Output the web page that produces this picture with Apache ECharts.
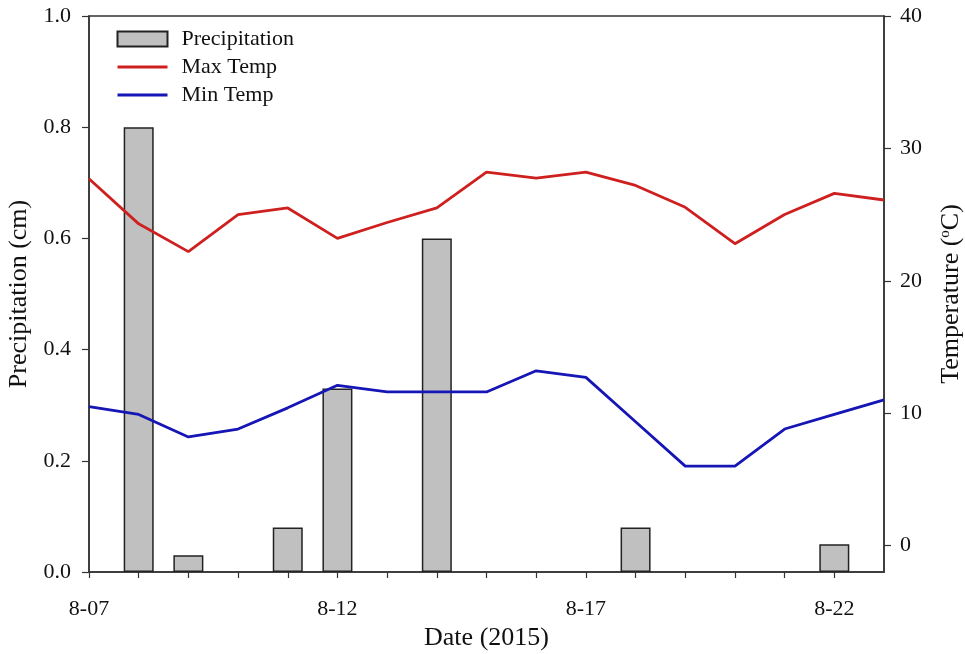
<!DOCTYPE html>
<html>
<head>
<meta charset="utf-8">
<script src="https://cdn.jsdelivr.net/npm/echarts@6/dist/echarts.min.js"></script>
<style>
  html, body { margin: 0; padding: 0; background: #fff; }
  #chart { width: 965px; height: 654px; }
</style>
</head>
<body>
<div id="chart"></div>
<script>
// Day of August 2015 for each daily temperature reading
const days = [7, 8, 9, 10, 11, 12, 13, 14, 15, 16, 17, 18, 19, 20, 21, 22, 23];
// Daily maximum and minimum air temperature (°C)
const maxTemp = [27.7, 24.3, 22.2, 25.0, 25.5, 23.2, 24.4, 25.5, 28.2, 27.75, 28.2, 27.2, 25.55, 22.8, 25.0, 26.6, 26.1];
const minTemp = [10.5, 9.9, 8.2, 8.8, 10.4, 12.1, 11.6, 11.6, 11.6, 13.2, 12.7, 9.35, 6.0, 6.0, 8.8, 9.9, 11.0];
// Days with rain and the amount recorded (cm)
const precipDays = [8, 9, 11, 12, 14, 18, 22];
const precipCm = [0.8, 0.03, 0.08, 0.33, 0.6, 0.08, 0.05];
// Labelled dates on the x axis and temperature ticks on the right axis
const dateTicks = [7, 12, 17, 22];
const tempTicks = [0, 10, 20, 30, 40];

const FONT = '"Liberation Serif", "Times New Roman", serif';
const AXIS_COLOR = '#333';
const TEXT_COLOR = '#111';
const RED = '#cf2020';
const BLUE = '#1616b6';

const chart = echarts.init(document.getElementById('chart'), null, { renderer: 'canvas' });

const pad2 = n => (n < 10 ? '0' : '') + n;

chart.setOption({
  animation: false,
  backgroundColor: '#fff',
  textStyle: { fontFamily: FONT },
  grid: {
    left: 89, right: 81, top: 16, bottom: 82,
    show: true, borderColor: AXIS_COLOR, borderWidth: 1.5,
    containLabel: false,
    outerBoundsMode: 'none'
  },
  legend: {
    orient: 'vertical',
    left: 116, top: 28,
    padding: 0,
    itemWidth: 50, itemHeight: 15, itemGap: 6,
    textStyle: { fontFamily: FONT, fontSize: 22, color: TEXT_COLOR, padding: [0, 0, 0, 9] },
    data: [
      { name: 'Precipitation', icon: 'rect' },
      // line-only keys: keep the stroke, hide the marker
      { name: 'Max Temp', itemStyle: { opacity: 0 }, lineStyle: { width: 3 } },
      { name: 'Min Temp', itemStyle: { opacity: 0 }, lineStyle: { width: 3 } }
    ]
  },
  xAxis: {
    type: 'value',
    min: 7, max: 23, interval: 1,
    name: 'Date (2015)',
    nameLocation: 'middle',
    nameGap: 47,
    nameTextStyle: { fontFamily: FONT, fontSize: 26, color: TEXT_COLOR },
    axisLine: { show: true, onZero: false, lineStyle: { color: AXIS_COLOR, width: 1.5 } },
    axisTick: { show: true, inside: false, length: 6, lineStyle: { color: AXIS_COLOR, width: 1.2 } },
    axisLabel: {
      margin: 26, fontFamily: FONT, fontSize: 22, color: TEXT_COLOR,
      showMinLabel: true, showMaxLabel: false,
      formatter: v => dateTicks.indexOf(v) >= 0 ? '8-' + pad2(v) : ''
    },
    splitLine: { show: false }
  },
  yAxis: [
    {
      type: 'value',
      min: 0, max: 1, interval: 0.2,
      name: 'Precipitation (cm)',
      nameLocation: 'middle',
      nameGap: 55,
      nameRotate: 90,
      nameTextStyle: { fontFamily: FONT, fontSize: 26, color: TEXT_COLOR },
      axisLine: { show: true, lineStyle: { color: AXIS_COLOR, width: 1.5 } },
      axisTick: { show: true, inside: false, length: 7, lineStyle: { color: AXIS_COLOR, width: 1.2 } },
      axisLabel: {
        margin: 18, fontFamily: FONT, fontSize: 22, color: TEXT_COLOR,
        formatter: v => v.toFixed(1)
      },
      splitLine: { show: false }
    },
    {
      type: 'value',
      min: -2, max: 40,
      position: 'right',
      name: 'Temperature ({sup|o}C)',
      nameLocation: 'middle',
      nameGap: 54,
      nameRotate: 90,
      nameTextStyle: {
        fontFamily: FONT, fontSize: 26, color: TEXT_COLOR,
        rich: { sup: { fontFamily: FONT, fontSize: 15, color: TEXT_COLOR, verticalAlign: 'top', padding: [0, 0, 10, 0] } }
      },
      axisLine: { show: true, lineStyle: { color: AXIS_COLOR, width: 1.5 } },
      axisTick: { show: true, inside: false, length: 7, customValues: tempTicks, lineStyle: { color: AXIS_COLOR, width: 1.2 } },
      axisLabel: {
        margin: 16, fontFamily: FONT, fontSize: 22, color: TEXT_COLOR,
        customValues: tempTicks
      },
      splitLine: { show: false }
    }
  ],
  series: [
    {
      name: 'Precipitation',
      type: 'bar',
      yAxisIndex: 0,
      barWidth: 30,
      itemStyle: { color: '#c0c0c0', borderColor: '#222', borderWidth: 1.5 },
      data: precipDays.map((d, i) => [d, precipCm[i]])
    },
    {
      name: 'Max Temp',
      type: 'line',
      yAxisIndex: 1,
      symbol: 'none',
      lineStyle: { color: RED, width: 2.8 },
      itemStyle: { color: RED },
      data: days.map((d, i) => [d, maxTemp[i]])
    },
    {
      name: 'Min Temp',
      type: 'line',
      yAxisIndex: 1,
      symbol: 'none',
      lineStyle: { color: BLUE, width: 2.8 },
      itemStyle: { color: BLUE },
      data: days.map((d, i) => [d, minTemp[i]])
    }
  ]
});
</script>
</body>
</html>
